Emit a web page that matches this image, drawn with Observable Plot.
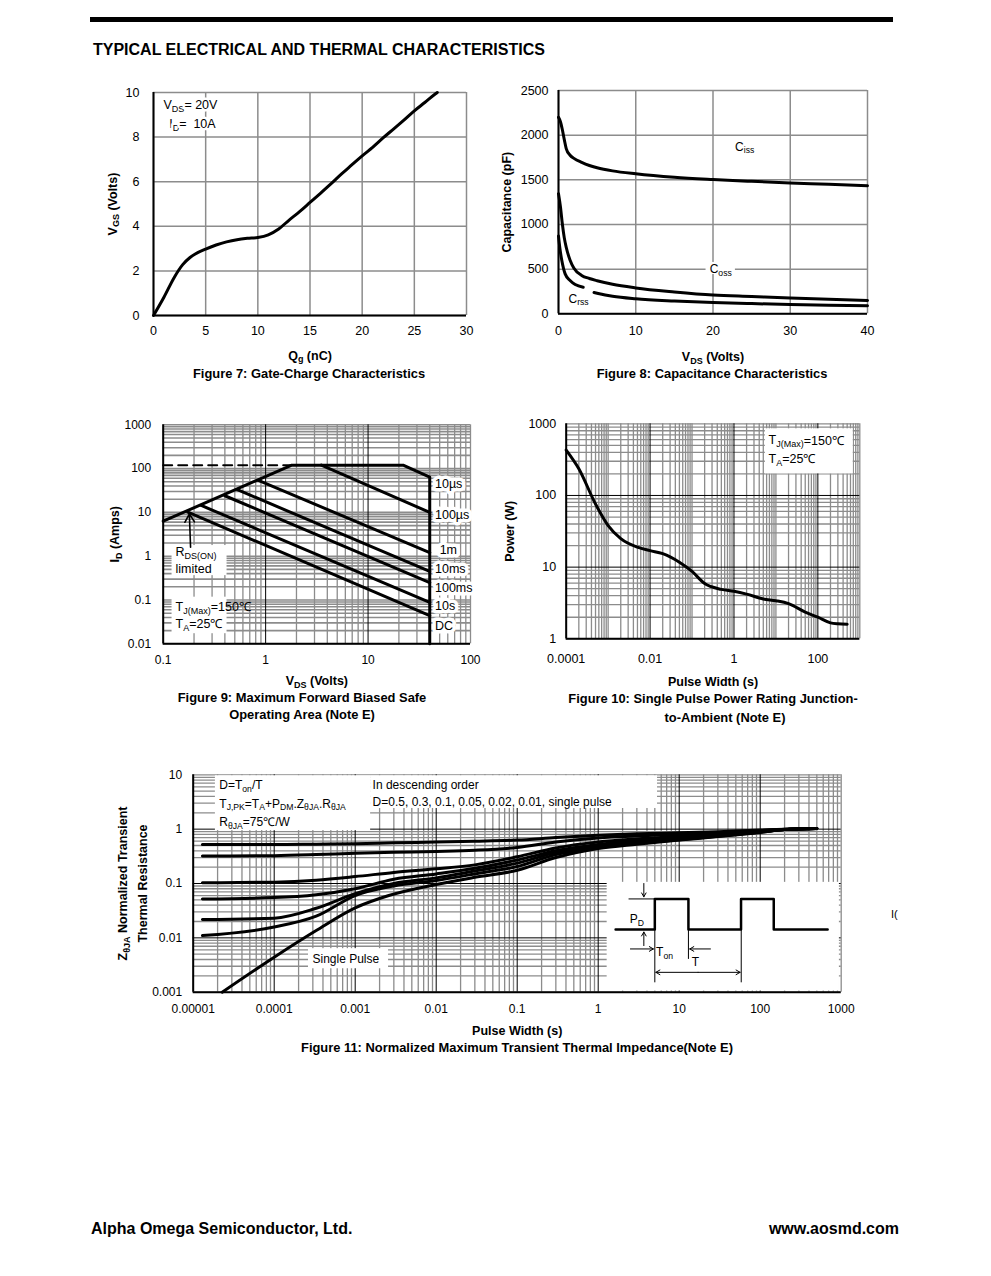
<!DOCTYPE html>
<html><head><meta charset="utf-8">
<script src="https://cdn.jsdelivr.net/npm/d3@7"></script>
<script src="https://cdn.jsdelivr.net/npm/@observablehq/plot@0.6"></script>
<style>
body{margin:0;background:#fff;}
#page{position:relative;width:991px;height:1276px;background:#fff;font-family:"Liberation Sans",Arial,Helvetica,sans-serif;color:#000;overflow:hidden}
.t{position:absolute;white-space:nowrap;line-height:16px}
.b{font-weight:bold}
.plot{position:absolute}
</style></head><body><div id="page"></div>
<script>
// ---------------- Figure 7 : gate charge ----------------
const qg  = [0, 1, 2, 2.8, 3.5, 4, 5, 6, 7, 8, 9, 10, 11, 12, 13, 14, 15, 16, 17, 18, 19, 20, 21, 22, 23, 24, 25, 26, 27, 27.2];
const vgs = [0, 0.82, 1.72, 2.28, 2.6, 2.76, 2.98, 3.16, 3.3, 3.4, 3.46, 3.5, 3.62, 3.88, 4.28, 4.66, 5.07, 5.48, 5.9, 6.34, 6.75, 7.16, 7.54, 7.96, 8.36, 8.76, 9.18, 9.55, 9.93, 10];
const qgTicks  = [0, 5, 10, 15, 20, 25, 30];
const vgsTicks = [0, 2, 4, 6, 8, 10];

// ---------------- Figure 8 : capacitance ----------------
const capVds = [0, 0.25, 0.5, 0.75, 1, 1.5, 2, 3, 4, 5, 7, 10, 15, 20, 25, 30, 35, 40];
const ciss   = [2200, 2150, 2060, 1950, 1850, 1775, 1740, 1695, 1660, 1635, 1600, 1567, 1528, 1503, 1483, 1465, 1450, 1433];
const coss   = [1345, 1200, 1005, 850, 745, 600, 510, 430, 395, 370, 330, 290, 245, 210, 193, 176, 162, 150];
const crssVds = [0, 0.2, 0.43, 0.86, 1.5, 2.16, 3.2, 3.3, 4.6, 5, 7, 10, 15, 20, 25, 30, 35, 40];
const crss    = [870, 720, 596, 447, 373, 328, 298, null, 238, 230, 196, 168, 143, 126, 114, 104, 96, 89];
const capXTicks = [0, 10, 20, 30, 40];
const capYTicks = [0, 500, 1000, 1500, 2000, 2500];

// ---------------- Figure 9 : safe operating area ----------------
const soaNames = ["10µs", "100µs", "1m", "10ms", "100ms", "10s", "DC"];
const soaVds = [[0.1, 1.8, 22, 40, 40], [3.5, 40], [0.85, 40], [0.53, 40], [0.4, 40], [0.235, 40], [0.174, 40]];
const soaId  = [[6.3, 120, 120, 64, 0.01], [120, 10], [54, 1.2], [33, 0.45], [24, 0.25], [14.4, 0.088], [10.1, 0.044]];
const soaDashVds = [0.1, 1.8];
const soaDashId  = [120, 120];
const soaXTicks = [0.1, 1, 10, 100];
const soaYTicks = [0.01, 0.1, 1, 10, 100, 1000];

// ---------------- Figure 10 : single pulse power ----------------
const pulseW = [1e-4, 2e-4, 5e-4, 1e-3, 2e-3, 5e-3, 1e-2, 2e-2, 5e-2, 0.1, 0.2, 0.5, 1, 2, 5, 10, 20, 50, 100, 200, 300, 500];
const power  = [430, 236, 76, 38, 25, 19, 17, 15.4, 11.7, 8.7, 5.9, 4.9, 4.6, 4.2, 3.6, 3.4, 3.1, 2.36, 2.0, 1.67, 1.62, 1.6];
const pwXTicks = [0.0001, 0.01, 1, 100];
const pwYTicks = [1, 10, 100, 1000];

// ---------------- Figure 11 : transient thermal impedance ----------------
const zDuty = ["0.5", "0.3", "0.1", "0.05", "0.02", "0.01", "single pulse"];
const zX = [1.3e-5, 1e-4, 3.3e-4, 1e-3, 3e-3, 1e-2, 3e-2, 0.1, 0.3, 1, 3, 10, 30, 100, 200, 500];
const zXSingle = [2.28e-5, 1e-4, 3.3e-4, 1e-3, 2.6e-3, 1e-2, 3e-2, 0.1, 0.3, 1, 3, 10, 30, 100, 200, 500];
const zD05  = [0.52, 0.52, 0.53, 0.54, 0.56, 0.58, 0.60, 0.63, 0.70, 0.77, 0.82, 0.86, 0.90, 0.96, 1.0, 1.03];
const zD03  = [0.32, 0.325, 0.34, 0.36, 0.375, 0.39, 0.41, 0.46, 0.58, 0.69, 0.75, 0.80, 0.86, 0.94, 1.0, 1.03];
const zD01  = [0.103, 0.106, 0.115, 0.134, 0.16, 0.186, 0.22, 0.31, 0.45, 0.58, 0.66, 0.73, 0.80, 0.92, 0.99, 1.03];
const zD005 = [0.052, 0.055, 0.062, 0.08, 0.12, 0.15, 0.19, 0.27, 0.40, 0.52, 0.61, 0.68, 0.77, 0.90, 0.98, 1.03];
const zD002 = [0.0217, 0.023, 0.035, 0.065, 0.10, 0.127, 0.17, 0.237, 0.37, 0.48, 0.57, 0.65, 0.75, 0.89, 0.98, 1.03];
const zD001 = [0.011, 0.0158, 0.025, 0.06, 0.09, 0.114, 0.15, 0.206, 0.34, 0.46, 0.55, 0.64, 0.74, 0.88, 0.98, 1.03];
const zSingle = [0.001, 0.0044, 0.0136, 0.0356, 0.06, 0.096, 0.13, 0.175, 0.30, 0.44, 0.53, 0.63, 0.73, 0.87, 0.98, 1.03];
const zXTicks = [1e-5, 1e-4, 1e-3, 1e-2, 0.1, 1, 10, 100, 1000];
const zYTicks = [0.001, 0.01, 0.1, 1, 10];
// schematic pulse train of the inset (drawn in the chart's own units)
const pulseShapeX = [1.64, 5, 5, 13, 13, 58, 58, 147, 147, 680];
const pulseShapeY = [0.0142, 0.0142, 0.052, 0.052, 0.0142, 0.0142, 0.052, 0.052, 0.0142, 0.0142];

// ================= helpers =================
const FONT = '"Liberation Sans", Arial, Helvetica, sans-serif';
const GRAY = "#8c8c8c";
const page = document.getElementById("page");
const NS = "http://www.w3.org/2000/svg";

function logTicks(lo, hi) {
  const out = [];
  for (let k = Math.floor(Math.log10(lo)); k <= Math.ceil(Math.log10(hi)); k++)
    for (let m = 1; m <= 9; m++) {
      const v = +(m * Math.pow(10, k)).toPrecision(6);
      if (v >= lo * 0.999 && v <= hi * 1.001) out.push(v);
    }
  return out;
}
function rows(xs, ys, extra) { return xs.map((x, i) => Object.assign({x, y: ys[i]}, extra || {})); }

function richify(node) {
  const s = node.textContent;
  if (!/_\{/.test(s)) return;
  const parts = s.split(/(_\{[^}]*\})/);
  node.textContent = "";
  let shifted = false;
  for (const p of parts) {
    if (!p) continue;
    const t = document.createElementNS(NS, "tspan");
    if (p.startsWith("_{")) {
      t.textContent = p.slice(2, -1);
      t.setAttribute("font-size", "0.72em");
      t.setAttribute("dy", shifted ? "0" : "0.32em");
      shifted = true;
    } else {
      t.textContent = p;
      if (shifted) { t.setAttribute("dy", "-0.23em"); shifted = false; }
    }
    node.appendChild(t);
  }
}
function subs(svg) {
  svg.querySelectorAll("text").forEach(el => {
    const kids = el.querySelectorAll("tspan");
    if (kids.length) kids.forEach(richify); else richify(el);
  });
}
function place(svg, left, top) {
  subs(svg);
  svg.classList.add("plot");
  svg.style.left = left + "px";
  svg.style.top = top + "px";
  page.appendChild(svg);
}
function html(txt, css, cls) {
  const d = document.createElement("div");
  d.className = "t " + (cls || "");
  d.innerHTML = txt;
  Object.assign(d.style, css);
  page.appendChild(d);
}
const baseStyle = (fs) => ({fontFamily: FONT, fontSize: fs + "px", color: "#000", background: "transparent", overflow: "visible"});
const gridOpt = {stroke: GRAY, strokeOpacity: 1, strokeWidth: 1.5};
const frameOpt = {stroke: "#000", strokeWidth: 2};
const fmt = d => String(d);
const xTitle = (t, dy) => Plot.text([t], {frameAnchor: "bottom", dy, text: d => d, fontWeight: "bold", textAnchor: "middle", lineAnchor: "middle", fontSize: 12.5});
const yTitle = (t, dx) => Plot.text([t], {frameAnchor: "left", dx, rotate: -90, text: d => d, fontWeight: "bold", textAnchor: "middle", lineAnchor: "middle", fontSize: 12.5});
const note = (data, o) => Plot.text(data, Object.assign({x: "x", y: "y", text: "t", textAnchor: "start", lineAnchor: "middle", fill: "#000"}, o || {}));
const CAP = "12.9px";

// ================= page header / footer =================
html("", {left: "90px", top: "17px", width: "803px", height: "5px", background: "#000"});
html("TYPICAL ELECTRICAL AND THERMAL CHARACTERISTICS", {left: "93px", top: "42px", fontSize: "16px"}, "b");
html("Alpha Omega Semiconductor, Ltd.", {left: "91px", top: "1221px", fontSize: "16px"}, "b");
html("www.aosmd.com", {right: "92px", top: "1221px", fontSize: "16px"}, "b");
html("I(", {left: "891px", top: "906px", fontSize: "11px"});

// ================= Figure 7 =================
place(Plot.plot({
  width: 385, height: 285, marginLeft: 58, marginRight: 14, marginTop: 12, marginBottom: 50,
  style: baseStyle(12.5),
  x: {domain: [0, 30]}, y: {domain: [0, 10]},
  marks: [
    Plot.gridX(qgTicks, gridOpt),
    Plot.gridY(vgsTicks, gridOpt),
    Plot.axisX(qgTicks, {tickSize: 0, tickPadding: 11, label: null, tickFormat: fmt}),
    Plot.axisY(vgsTicks, {tickSize: 0, tickPadding: 14, label: null, tickFormat: fmt}),
    note([{x: 0.96, y: 9.42, t: "V_{DS}= 20V"}, {x: 1.5, y: 8.6, t: "I_{D}=  10A"}], {stroke: "#fff", strokeWidth: 5, paintOrder: "stroke", fontSize: 12.5}),
    Plot.line(rows(qg, vgs), {x: "x", y: "y", stroke: "#000", strokeWidth: 3, curve: "monotone-x"}),
    Plot.ruleX([0], frameOpt), Plot.ruleY([0], frameOpt),
    xTitle("Q_{g} (nC)", 40),
    yTitle("V_{GS} (Volts)", -41)
  ]
}), 95, 80);
html("Figure 7: Gate-Charge Characteristics", {left: "309px", top: "366px", fontSize: CAP, transform: "translateX(-50%)"}, "b");

// ================= Figure 8 =================
place(Plot.plot({
  width: 390, height: 285, marginLeft: 63, marginRight: 18, marginTop: 10, marginBottom: 51.7,
  style: baseStyle(12.5),
  x: {domain: [0, 40]}, y: {domain: [0, 2500]},
  marks: [
    Plot.gridX(capXTicks, gridOpt),
    Plot.gridY(capYTicks, gridOpt),
    Plot.axisX(capXTicks, {tickSize: 0, tickPadding: 12, label: null, tickFormat: fmt}),
    Plot.axisY(capYTicks, {tickSize: 0, tickPadding: 10, label: null, tickFormat: fmt}),
    Plot.line(rows(capVds, ciss), {x: "x", y: "y", stroke: "#000", strokeWidth: 3, curve: "monotone-x"}),
    Plot.line(rows(capVds, coss), {x: "x", y: "y", stroke: "#000", strokeWidth: 3, curve: "monotone-x"}),
    Plot.line(rows(crssVds, crss), {x: "x", y: "y", stroke: "#000", strokeWidth: 3, curve: "monotone-x"}),
    Plot.rect([{x1: 19.1, x2: 22.9, y1: 440, y2: 575}], {x1: "x1", x2: "x2", y1: "y1", y2: "y2", fill: "#fff"}),
    note([{x: 21, y: 500, t: "C_{oss}"}], {textAnchor: "middle", fontSize: 12}),
    note([{x: 24.1, y: 1870, t: "C_{iss}"}], {textAnchor: "middle", fontSize: 12}),
    note([{x: 2.6, y: 168, t: "C_{rss}"}], {textAnchor: "middle", fontSize: 12}),
    Plot.ruleX([0], frameOpt), Plot.ruleY([0], frameOpt),
    xTitle("V_{DS} (Volts)", 43),
    yTitle("Capacitance (pF)", -52)
  ]
}), 495, 80);
html("Figure 8: Capacitance Characteristics", {left: "712px", top: "366px", fontSize: CAP, transform: "translateX(-50%)"}, "b");

// ================= Figure 9 =================
{
  const gx = logTicks(0.1, 100).filter(v => v !== 1 && v !== 10);
  const gy = logTicks(0.01, 1000);
  const soaRows = soaNames.flatMap((name, i) => soaVds[i].map((v, j) => ({x: v, y: soaId[i][j], name})));
  const soaLabelY = [45, 8.5, 1.4, 0.5, 0.19, 0.072, 0.025];
  const soaLabelX = [45, 45, 50, 45, 45, 45, 45];
  place(Plot.plot({
    width: 385, height: 280, marginLeft: 62.7, marginRight: 15, marginTop: 9.3, marginBottom: 51.7,
    style: baseStyle(12),
    x: {type: "log", domain: [0.1, 100]}, y: {type: "log", domain: [0.01, 1000]},
    marks: [
      Plot.gridX(gx, {stroke: GRAY, strokeOpacity: 1, strokeWidth: 1.3}),
      Plot.gridY(gy, {stroke: GRAY, strokeOpacity: 1, strokeWidth: 1.6}),
      Plot.gridX([1, 10], {stroke: "#000", strokeOpacity: 1, strokeWidth: 1}),
      Plot.rect([{x1: 0.122, x2: 0.42, y1: 0.36, y2: 1.75}, {x1: 0.122, x2: 0.42, y1: 0.017, y2: 0.116}],
        {x1: "x1", x2: "x2", y1: "y1", y2: "y2", fill: "#fff"}),
      Plot.axisX(soaXTicks, {tickSize: 0, tickPadding: 12, label: null, tickFormat: fmt}),
      Plot.axisY(soaYTicks, {tickSize: 0, tickPadding: 12, label: null, tickFormat: fmt}),
      Plot.line(rows(soaDashVds, soaDashId), {x: "x", y: "y", stroke: "#000", strokeWidth: 2, strokeDasharray: "9,6"}),
      Plot.line(soaRows, {x: "x", y: "y", z: "name", stroke: "#000", strokeWidth: 3}),
      Plot.text(soaNames, {x: soaLabelX, y: soaLabelY, text: d => d, textAnchor: "start", fill: "#000", stroke: "#fff", strokeWidth: 7, paintOrder: "stroke", fontSize: 12.5}),
      note([{x: 0.132, y: 1.23, t: "R_{DS(ON)}"}, {x: 0.132, y: 0.515, t: "limited"},
            {x: 0.132, y: 0.068, t: "T_{J(Max)}=150℃"}, {x: 0.132, y: 0.0286, t: "T_{A}=25℃"}], {fontSize: 12.5}),
      Plot.arrow([{x1: 0.185, y1: 1.6, x2: 0.18, y2: 9.3}], {x1: "x1", y1: "y1", x2: "x2", y2: "y2", stroke: "#000", strokeWidth: 1.6, headLength: 9}),
      Plot.ruleX([0.1], frameOpt), Plot.ruleY([0.01], frameOpt),
      xTitle("V_{DS} (Volts)", 37),
      yTitle("I_{D} (Amps)", -48)
    ]
  }), 100, 415);
  html("Figure 9: Maximum Forward Biased Safe", {left: "302px", top: "690px", fontSize: CAP, transform: "translateX(-50%)"}, "b");
  html("Operating Area (Note E)", {left: "302px", top: "707px", fontSize: CAP, transform: "translateX(-50%)"}, "b");
}

// ================= Figure 10 =================
{
  const gx = logTicks(1e-4, 1000).filter(v => ![0.01, 1, 100].includes(v));
  const gy = logTicks(1, 1000).filter(v => ![10, 100].includes(v));
  place(Plot.plot({
    width: 385, height: 280, marginLeft: 70.7, marginRight: 20.7, marginTop: 8.3, marginBottom: 56.7,
    style: baseStyle(12.5),
    x: {type: "log", domain: [1e-4, 1000]}, y: {type: "log", domain: [1, 1000]},
    marks: [
      Plot.gridX(gx, {stroke: GRAY, strokeOpacity: 1, strokeWidth: 1.3}),
      Plot.gridY(gy, {stroke: GRAY, strokeOpacity: 1, strokeWidth: 1.3}),
      Plot.gridX([0.01, 1, 100], {stroke: "#000", strokeOpacity: 1, strokeWidth: 1}),
      Plot.gridY([10, 100], {stroke: "#000", strokeOpacity: 1, strokeWidth: 1}),
      Plot.rect([{x1: 5.6, x2: 697, y1: 200, y2: 851}], {x1: "x1", x2: "x2", y1: "y1", y2: "y2", fill: "#fff"}),
      Plot.axisX(pwXTicks, {tickSize: 0, tickPadding: 15, label: null, tickFormat: fmt}),
      Plot.axisY(pwYTicks, {tickSize: 0, tickPadding: 10, label: null, tickFormat: fmt}),
      Plot.line(rows(pulseW, power), {x: "x", y: "y", stroke: "#000", strokeWidth: 3, curve: "monotone-x"}),
      note([{x: 6.7, y: 585, t: "T_{J(Max)}=150℃"}, {x: 6.7, y: 325, t: "T_{A}=25℃"}], {fontSize: 12.5}),
      Plot.ruleX([1e-4], frameOpt), Plot.ruleY([1], frameOpt),
      xTitle("Pulse Width (s)", 43),
      yTitle("Power (W)", -56)
    ]
  }), 495, 415);
  html("Figure 10: Single Pulse Power Rating Junction-", {left: "713px", top: "691px", fontSize: CAP, transform: "translateX(-50%)"}, "b");
  html("to-Ambient (Note E)", {left: "725px", top: "710px", fontSize: CAP, transform: "translateX(-50%)"}, "b");
}

// ================= Figure 11 =================
{
  const majX = [1e-4, 1e-3, 1e-2, 0.1, 1, 10, 100];
  const majY = [0.01, 0.1, 1];
  const gx = logTicks(1e-5, 1000).filter(v => !majX.includes(v));
  const gy = logTicks(0.001, 10).filter(v => !majY.includes(v));
  const series = [zD05, zD03, zD01, zD005, zD002, zD001, zSingle];
  const zRows = zDuty.flatMap((d, i) => (i === 6 ? zXSingle : zX).map((x, j) => ({x, y: series[i][j], d})));
  const pulseRows = rows(pulseShapeX, pulseShapeY);
  const arrows = [
    {x1: 3.66, y1: 0.1, x2: 3.66, y2: 0.057},
    {x1: 3.66, y1: 0.0072, x2: 3.66, y2: 0.0128},
    {x1: 2.5, y1: 0.00625, x2: 4.8, y2: 0.00625},
    {x1: 24.3, y1: 0.00625, x2: 13.5, y2: 0.00625},
    {x1: 17.1, y1: 0.00232, x2: 5.15, y2: 0.00232},
    {x1: 17.1, y1: 0.00232, x2: 56.5, y2: 0.00232}
  ];
  const thin = [
    {x1: 2.37, y1: 0.052, x2: 5, y2: 0.052},
    {x1: 5, y1: 0.0142, x2: 5, y2: 0.00152},
    {x1: 13, y1: 0.0142, x2: 13, y2: 0.0041},
    {x1: 58.3, y1: 0.0142, x2: 58.3, y2: 0.00152}
  ];
  place(Plot.plot({
    width: 800, height: 270, marginLeft: 82.7, marginRight: 69.3, marginTop: 9.3, marginBottom: 43.3,
    style: baseStyle(12),
    x: {type: "log", domain: [1e-5, 1000]}, y: {type: "log", domain: [0.001, 10]},
    marks: [
      Plot.gridX(gx, {stroke: GRAY, strokeOpacity: 1, strokeWidth: 1.3}),
      Plot.gridY(gy, {stroke: GRAY, strokeOpacity: 1, strokeWidth: 1.3}),
      Plot.gridX(majX, {stroke: "#000", strokeOpacity: 1, strokeWidth: 1}),
      Plot.gridY(majY, {stroke: "#000", strokeOpacity: 1, strokeWidth: 1}),
      Plot.rect([
        {x1: 1.88e-5, x2: 1.55e-3, y1: 0.94, y2: 9.6},
        {x1: 1.55e-3, x2: 5.4, y1: 2.4, y2: 9.6},
        {x1: 1.29, x2: 950, y1: 0.00105, y2: 0.105},
        {x1: 2.65e-4, x2: 2.58e-3, y1: 0.0027, y2: 0.00632}
      ], {x1: "x1", x2: "x2", y1: "y1", y2: "y2", fill: "#fff"}),
      Plot.axisX(zXTicks, {tickSize: 0, tickPadding: 12, label: null, tickFormat: fmt}),
      Plot.axisY(zYTicks, {tickSize: 0, tickPadding: 11, label: null, tickFormat: fmt}),
      Plot.line(zRows, {x: "x", y: "y", z: "d", stroke: "#000", strokeWidth: 3, curve: "monotone-x"}),
      Plot.line(pulseRows, {x: "x", y: "y", stroke: "#000", strokeWidth: 2.5}),
      Plot.link(thin, {x1: "x1", y1: "y1", x2: "x2", y2: "y2", stroke: "#000", strokeWidth: 1}),
      Plot.arrow(arrows, {x1: "x1", y1: "y1", x2: "x2", y2: "y2", stroke: "#000", strokeWidth: 1, headLength: 7}),
      note([{x: 2.1e-5, y: 6.35, t: "D=T_{on}/T"}, {x: 2.1e-5, y: 2.92, t: "T_{J,PK}=T_{A}+P_{DM}.Z_{θJA}.R_{θJA}"},
            {x: 2.1e-5, y: 1.36, t: "R_{θJA}=75℃/W"}, {x: 1.64e-3, y: 6.35, t: "In descending order"},
            {x: 1.64e-3, y: 3.18, t: "D=0.5, 0.3, 0.1, 0.05, 0.02, 0.01, single pulse"},
            {x: 2.97e-4, y: 0.00414, t: "Single Pulse"}], {fontSize: 12}),
      note([{x: 3.0, y: 0.0223, t: "P_{D}"}, {x: 6.6, y: 0.0055, t: "T_{on}"}, {x: 15.9, y: 0.00354, t: "T"}], {textAnchor: "middle", fontSize: 12}),
      Plot.ruleX([1e-5], frameOpt), Plot.ruleY([0.001], frameOpt),
      xTitle("Pulse Width (s)", 39),
      Plot.text(["Z_{θJA} Normalized Transient"], {frameAnchor: "left", dx: -70, rotate: -90, text: d => d, fontWeight: "bold", textAnchor: "middle", lineAnchor: "middle", fontSize: 12.5}),
      Plot.text(["Thermal Resistance"], {frameAnchor: "left", dx: -50, rotate: -90, text: d => d, fontWeight: "bold", textAnchor: "middle", lineAnchor: "middle", fontSize: 12.5})
    ]
  }), 110, 765);
  html("Figure 11: Normalized Maximum Transient Thermal Impedance(Note E)", {left: "517px", top: "1040px", fontSize: CAP, transform: "translateX(-50%)"}, "b");
}
</script></body></html>
